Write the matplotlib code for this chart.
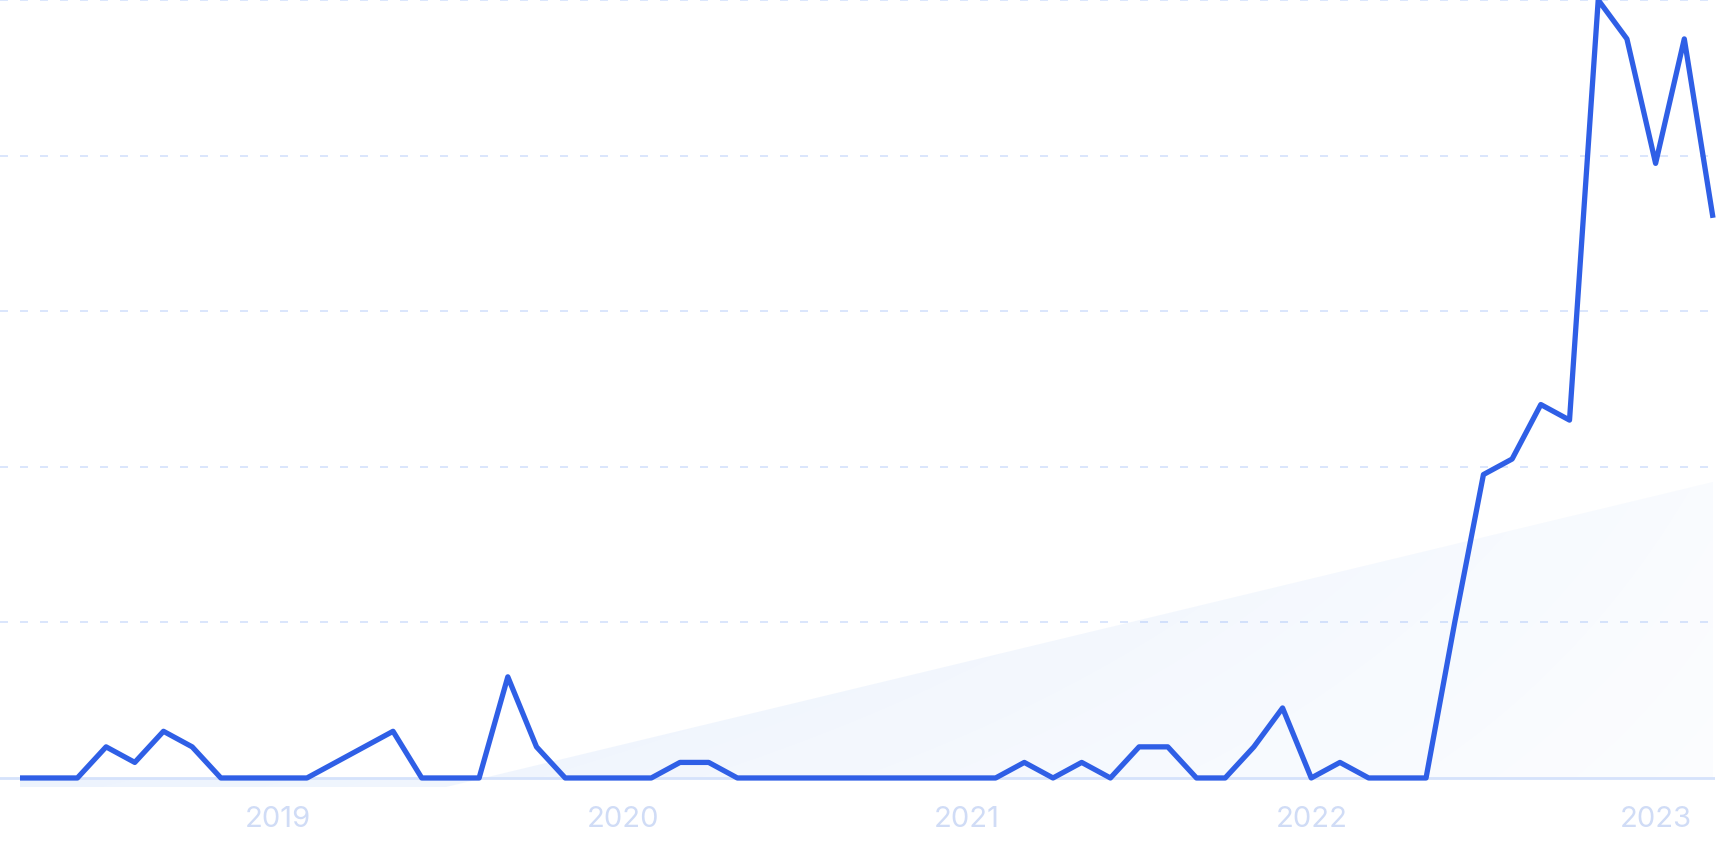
import numpy as np
import pandas as pd
import matplotlib
matplotlib.use('Agg')
import matplotlib.pyplot as plt
from matplotlib.patches import Polygon

# monthly search interest, Apr 2018 - Mar 2023
months = pd.date_range('2018-04-01', periods=60, freq='MS')
values = [0, 0, 0, 4, 2, 6, 4, 0, 0, 0,
          0, 2, 4, 6, 0, 0, 0, 13, 4, 0,
          0, 0, 0, 2, 2, 0, 0, 0, 0, 0,
          0, 0, 0, 0, 0, 2, 0, 2, 0, 4,
          4, 0, 0, 4, 9, 0, 2, 0, 0, 0,
          20, 39, 41, 48, 46, 100, 95, 79, 95, 72]
grid_levels = [20, 40, 60, 80, 100]

LINE = '#2f5fe6'
GRID = '#dbe6fc'
BASE = '#d5e2fb'
TICK = '#d0dcf6'

x = np.arange(len(values))
y = np.array(values, dtype=float)

fig = plt.figure(figsize=(17.2, 8.6), dpi=100)
ax = fig.add_axes([0, 1 - 787 / 860, 1715 / 1720, 787 / 860])
ax.set_xlim(-0.697, 59.07)
ax.set_ylim(-1.16, 100)

# linear trend, shown as a faded area
slope, icpt = np.polyfit(x, y, 1)
trend = slope * x + icpt
poly = Polygon(np.column_stack([np.r_[x, x[::-1]], np.r_[trend, np.zeros_like(trend)]]),
               closed=True, facecolor='none', edgecolor='none')
ax.add_patch(poly)
gx, gy = np.meshgrid(np.linspace(0, 1, 400), np.linspace(0, 1, 200))
alpha = 0.17 * (1 - 0.8 * gx) * (0.6 + 0.4 * gy)
grad = np.zeros((200, 400, 4))
grad[..., 0], grad[..., 1], grad[..., 2] = 0.30, 0.55, 0.93
grad[..., 3] = np.clip(alpha, 0, 1)
img = ax.imshow(grad, extent=[x[0], x[-1], -1.16, trend.max()], origin='lower',
                aspect='auto', zorder=1, interpolation='bilinear')
img.set_clip_path(poly)

# grid
for lv in grid_levels:
    ax.axhline(lv, color=GRID, lw=1.44, linestyle=(0, (4, 6)), zorder=0, clip_on=False)
ax.axhline(0, color=BASE, lw=2, zorder=2)

ax.plot(x, y, color=LINE, lw=3.8, solid_joinstyle='round', solid_capstyle='butt',
        zorder=3, clip_on=False)

jan = [i for i, m in enumerate(months) if m.month == 1]
ax.set_xticks(jan)
ax.set_xticklabels([str(months[i].year) for i in jan], fontsize=21, color=TICK,
                   family=['Inter', 'DejaVu Sans'])
ax.tick_params(axis='x', length=0, pad=14)
ax.set_yticks([])
for s in ax.spines.values():
    s.set_visible(False)
ax.patch.set_alpha(0)

fig.savefig('out.png', dpi=100, facecolor='white')
